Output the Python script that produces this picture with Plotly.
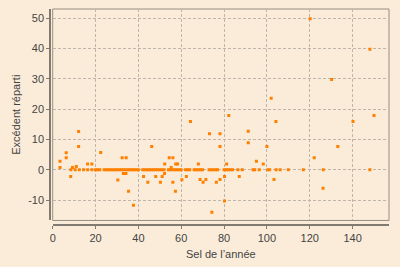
import plotly.graph_objects as go

# Off-zero observations (Sel de l'année, Excédent réparti)
sel_values = [3.4, 3.4, 6.3, 6.3, 8.4, 9.2, 11.0, 12.1, 12.1, 16.3, 18.3, 22.4,
              30.4, 32.4, 34.3, 33.0, 34.2, 35.4, 37.7, 42.4, 44.4, 46.2, 48.1,
              50.3, 51.1, 52.2, 52.3, 54.4, 56.1, 55.3, 56.1, 57.4, 58.3, 57.3,
              60.3, 62.4, 64.3, 68.0, 68.8, 70.2, 71.5, 73.2, 74.3, 76.4, 78.1,
              78.1, 78.1, 80.2, 80.2, 81.2, 82.2, 87.1, 91.3, 91.3, 95.1, 98.3,
              100.0, 102.0, 103.3, 104.2, 120.2, 122.1, 126.2, 130.2, 133.1,
              140.2, 148.1, 150.0]
excedent_values = [2.8, 0.75, 5.65, 4.0, -2.2, 0.75, 1.1, 12.6, 7.7, 1.95, 1.95, 5.7,
                   -3.4, 4.0, 4.0, -1.2, -1.2, -7.1, -11.7, -2.2, -4.1, 7.7, -2.2,
                   -4.1, -2.2, -1.2, 1.95, 4.0, 4.0, 0.75, -4.1, 1.95, 1.95, -7.1,
                   -3.3, -2.2, 15.9, 1.95, -3.2, -4.1, -3.2, 11.85, -14.0, -4.1, 11.85,
                   7.7, -3.2, -2.2, -10.3, 1.95, 17.9, -2.2, 12.7, 8.9, 2.8, 1.95,
                   7.7, 23.6, -3.2, 15.9, 49.8, 4.0, -6.1, 29.8, 7.7,
                   15.9, 39.7, 17.9]

# Observations with zero excess
sel_zero = [8.5, 10.5, 12.4, 14.4, 16.3, 18.3,
            20, 21, 22,
            24, 25, 26, 27, 28, 29, 30, 31, 32, 33, 34, 35, 36, 37, 38, 39, 40,
            42, 43, 44, 45, 46, 47, 48, 49, 50, 51, 52,
            54, 55, 56, 57, 58, 59, 60,
            62, 63, 64,
            66, 67, 68, 69, 70,
            73, 74, 75, 76, 77,
            80, 81, 82, 83, 84,
            86.4, 88.5, 93.5, 94.3, 96.4, 100.4, 101.3, 104.3, 106.2,
            110, 117, 126.3, 148.1]
excedent_zero = [0] * len(sel_zero)

x_ticks = [0, 20, 40, 60, 80, 100, 120, 140]
y_ticks = [-10, 0, 10, 20, 30, 40, 50]

bg = "rgb(251,236,217)"
orange = "rgb(255,128,0)"
axis_col = "rgb(128,122,112)"
grid_col = "rgb(190,182,170)"
font_fam = "Liberation Sans, Arial, sans-serif"

fig = go.Figure()
fig.add_trace(go.Scatter(
    x=sel_zero + sel_values, y=excedent_zero + excedent_values,
    mode="markers",
    marker=dict(symbol="square", size=3, color=orange, line=dict(width=0)),
    showlegend=False, hoverinfo="x+y"))

fig.update_layout(
    width=400, height=267,
    margin=dict(l=50, r=11, t=9, b=40),
    paper_bgcolor=bg, plot_bgcolor=bg,
    font=dict(family=font_fam, size=11, color="#444444"),
    xaxis=dict(
        domain=[0.008, 1], anchor="free", position=0,
        range=[0, 157], tickvals=x_ticks, ticktext=[str(v) for v in x_ticks],
        showline=True, linecolor=axis_col, linewidth=1.5,
        ticks="outside", ticklen=3, tickcolor=axis_col,
        showgrid=True, gridcolor=grid_col, griddash="3px,2px", gridwidth=1,
        zeroline=False,
        tickfont=dict(size=11, color="#444444"),
        title=dict(text="Sel de l’année", standoff=6,
                   font=dict(size=11, color="#444444"))),
    yaxis=dict(
        domain=[0.021, 1], anchor="free", position=0,
        range=[-16.7, 53], tickvals=y_ticks, ticktext=[str(v) for v in y_ticks],
        showline=True, linecolor=axis_col, linewidth=1.5,
        ticks="outside", ticklen=3, tickcolor=axis_col,
        showgrid=True, gridcolor=grid_col, griddash="3px,2px", gridwidth=1,
        zeroline=False,
        tickfont=dict(size=11, color="#444444"),
        title=dict(text="Excédent réparti", standoff=4,
                   font=dict(size=11, color="#444444"))),
    shapes=[dict(type="rect", xref="x domain", yref="y domain",
                 x0=0, x1=1, y0=0, y1=1,
                 line=dict(color="rgb(150,142,130)", width=1), layer="below")],
)

fig.write_html("out.html")
